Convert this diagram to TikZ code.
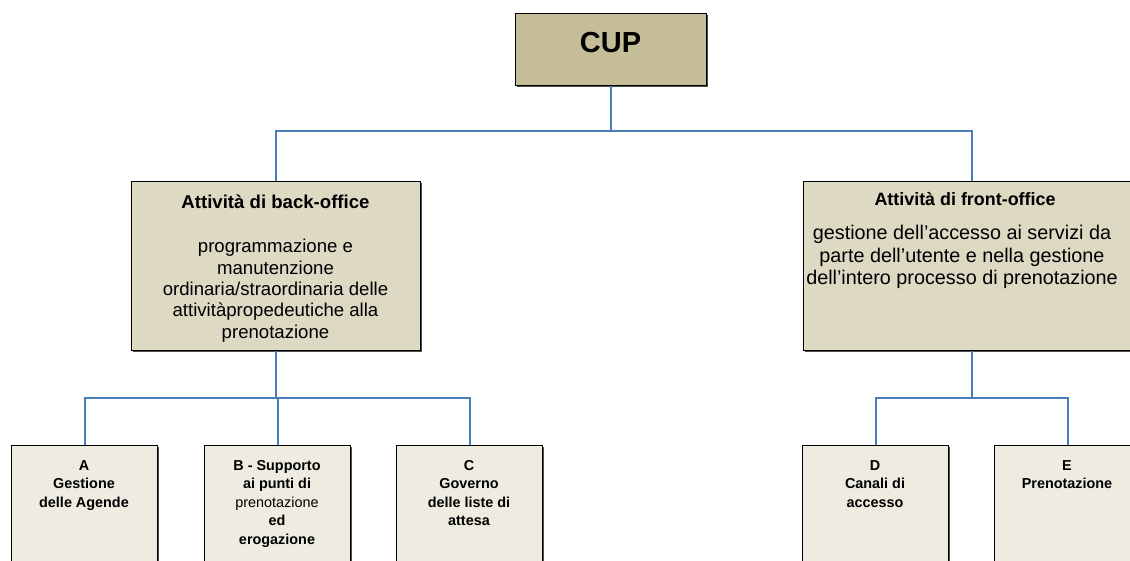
\documentclass[tikz,border=0pt]{standalone}
\usepackage{fontspec}
\setmainfont{Liberation Sans}
\usetikzlibrary{shadows}
\definecolor{cupfill}{HTML}{C4BD97}
\definecolor{midfill}{HTML}{DDD9C3}
\definecolor{lowfill}{HTML}{EEECE1}
\definecolor{linkblue}{HTML}{4A7EBB}
\begin{document}
\begin{tikzpicture}[x=1pt,y=-1pt,
  box/.style={draw=black, line width=1.1pt, rectangle, inner sep=0pt, anchor=north west,
    drop shadow={shadow xshift=1.4pt, shadow yshift=-1.4pt, fill=black!70, opacity=1}},
  conn/.style={draw=linkblue, line width=2pt},
  txt/.style={align=center, inner sep=0pt, anchor=base},
  low/.style={txt, font=\fontsize{14.4}{18.5}\selectfont\bfseries}]
\useasboundingbox (0,0) rectangle (1130,561);
\clip (0,0) rectangle (1130,561);
% boxes
\node[box, fill=cupfill, minimum width=191pt, minimum height=72pt] (CUP) at (515,13) {};
\node[box, fill=midfill, minimum width=289pt, minimum height=169pt] (BO) at (131,181) {};
\node[box, fill=midfill, minimum width=336pt, minimum height=169pt] (FO) at (803,181) {};
\node[box, fill=lowfill, minimum width=146pt, minimum height=140pt] (A) at (11,445) {};
\node[box, fill=lowfill, minimum width=146pt, minimum height=140pt] (B) at (204,445) {};
\node[box, fill=lowfill, minimum width=146pt, minimum height=140pt] (C) at (396,445) {};
\node[box, fill=lowfill, minimum width=146pt, minimum height=140pt] (D) at (802,445) {};
\node[box, fill=lowfill, minimum width=146pt, minimum height=140pt] (E) at (994,445) {};
% texts (base anchor = baseline of the last line)
\node[inner sep=0pt, font=\fontsize{29}{32}\selectfont\bfseries] (tCUP) at (610.5,43) {CUP};
\node[txt, font=\fontsize{18.6}{21.3}\selectfont\bfseries] (hBO) at (275.5,209) {Attività di back-office};
\node[txt, font=\fontsize{18.6}{21.3}\selectfont] (tBO) at (275.5,338) {programmazione e\\manutenzione\\ordinaria/straordinaria delle\\attivitàpropedeutiche alla\\prenotazione};
\node[txt, font=\fontsize{17.9}{22.3}\selectfont\bfseries] (hFO) at (965,205.5) {Attività di front-office};
\node[txt, font=\fontsize{19.8}{22.3}\selectfont] (tFO) at (962,284.5) {gestione dell’accesso ai servizi da\\parte dell’utente e nella gestione\\dell’intero processo di prenotazione};
\node[low] (tA) at (84,507) {A\\Gestione\\delle Agende};
\node[low] (tB) at (277,544) {B - Supporto\\ai punti di\\{\mdseries prenotazione}\\ed\\erogazione};
\node[low] (tC) at (469,525.5) {C\\Governo\\delle liste di\\attesa};
\node[low] (tD) at (875,507) {D\\Canali di\\accesso};
\node[low] (tE) at (1067,488.5) {E\\Prenotazione};
% connectors
\coordinate (j1) at (612,131);
\coordinate (j2) at (275.5,398);
\coordinate (j3) at (971,398);
\draw[conn] (CUP.south) -- (CUP.south |- j1) -| (BO.north);
\draw[conn] (CUP.south |- j1) -| (FO.north);
\draw[conn] (BO.south) -- (BO.south |- j2) -| (A.north);
\draw[conn] (BO.south |- j2) -| (C.north);
\draw[conn] (BO.south |- j2) -| (B.north);
\draw[conn] (FO.south) -- (FO.south |- j3) -| (D.north);
\draw[conn] (FO.south |- j3) -| (E.north);
\end{tikzpicture}
\end{document}
